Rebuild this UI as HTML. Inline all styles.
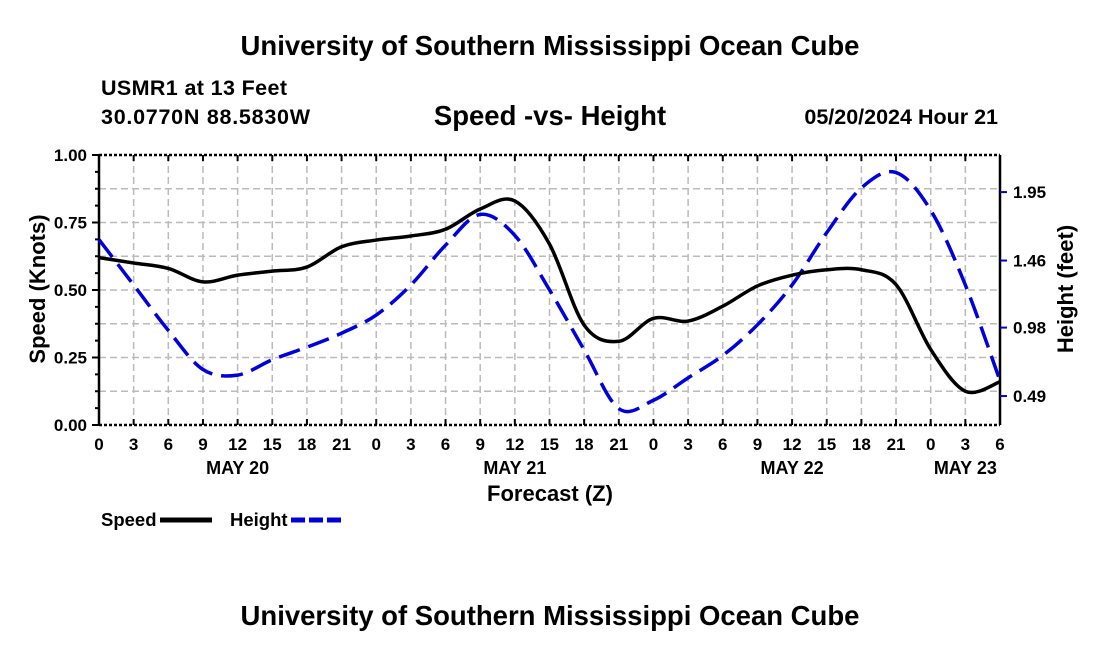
<!DOCTYPE html>
<html><head><meta charset="utf-8"><style>
body{margin:0;background:#fff;}
svg{display:block;font-family:"Liberation Sans",Arial,sans-serif;font-weight:bold;}
</style></head><body>
<svg id="c" width="1100" height="650" viewBox="0 0 1100 650">
<text x="550" y="55" font-size="27.5" text-anchor="middle">University of Southern Mississippi Ocean Cube</text>
<text x="101" y="95" font-size="21.5" textLength="186">USMR1 at 13 Feet</text>
<text x="101" y="124" font-size="21.5" textLength="209">30.0770N  88.5830W</text>
<text x="550" y="125" font-size="27.5" text-anchor="middle">Speed -vs- Height</text>
<text x="998" y="124" font-size="21.5" text-anchor="end">05/20/2024 Hour 21</text>
<g id="grid"></g>
<g id="axes"></g>
<g id="series"></g>
<text x="550" y="501" font-size="22" text-anchor="middle">Forecast (Z)</text>
<text transform="translate(45,289) rotate(-90)" font-size="22" text-anchor="middle">Speed (Knots)</text>
<text transform="translate(1073,289) rotate(-90)" font-size="22" text-anchor="middle">Height (feet)</text>
<g>
<text x="101" y="526" font-size="18.5">Speed</text>
<line x1="160" y1="520" x2="212" y2="520" stroke="#000" stroke-width="5"/>
<text x="230" y="526" font-size="18.5">Height</text>
<line x1="291" y1="520" x2="343" y2="520" stroke="#0000dd" stroke-width="5" stroke-dasharray="14,4"/>
</g>
<text x="550" y="625" font-size="27.5" text-anchor="middle">University of Southern Mississippi Ocean Cube</text>
</svg>
<script>
const hourLabels=["0","3","6","9","12","15","18","21","0","3","6","9","12","15","18","21","0","3","6","9","12","15","18","21","0","3","6"];
const dayLabels=["MAY 20","MAY 21","MAY 22","MAY 23"];
const dayIndex=[4,12,20,25];
const speedTicks=[0,0.25,0.5,0.75,1.0];
const heightTicks=[0.49,0.98,1.46,1.95];
const speed=[0.62,0.60,0.58,0.53,0.555,0.57,0.585,0.66, 0.685,0.70,0.725,0.80,0.83,0.67,0.37,0.31, 0.395,0.385,0.44,0.515,0.555,0.575,0.575,0.52, 0.28,0.125,0.16];
const height=[1.61,1.285,0.96,0.68,0.64,0.75,0.84,0.94, 1.07,1.285,1.57,1.79,1.64,1.25,0.82,0.40, 0.46,0.62,0.78,1.0,1.285,1.66,1.98,2.09, 1.82,1.285,0.60];

const NS="http://www.w3.org/2000/svg";
const X0=99,X1=1000,Y0=425,Y1=155;
const xs=i=>X0+(X1-X0)*i/(hourLabels.length-1);
const ys=v=>Y0-(Y0-Y1)*v/1.0;
const yh=v=>464.5-139.7*v;
function mk(tag,attrs,parent){const e=document.createElementNS(NS,tag);for(const k in attrs)e.setAttribute(k,attrs[k]);parent.appendChild(e);return e;}
const grid=document.getElementById('grid'),axes=document.getElementById('axes'),ser=document.getElementById('series');
for(let v=0.125;v<1;v+=0.125){const l=mk('line',{x1:X0,x2:X1,y1:ys(v),y2:ys(v),stroke:'#bbb','stroke-width':1.5,'stroke-dasharray':'7,4'},grid);

}
hourLabels.forEach((t,i)=>{const x=xs(i);
if(i>0&&i<hourLabels.length-1){const l=mk('line',{x1:x,x2:x,y1:Y1,y2:Y0,stroke:'#bbb','stroke-width':1.5,'stroke-dasharray':'7,4'},grid);

}
mk('line',{x1:x,x2:x,y1:Y0,y2:Y0-6,stroke:'#000','stroke-width':2},axes);
mk('line',{x1:x,x2:x,y1:Y1,y2:Y1+6,stroke:'#000','stroke-width':2},axes);
const tx=mk('text',{x:x,y:450,'font-size':17,'text-anchor':'middle'},axes);tx.textContent=t;

});
dayLabels.forEach((d,i)=>{const tx=mk('text',{x:xs(dayIndex[i]),y:474,'font-size':18,'text-anchor':'middle'},axes);tx.textContent=d;

});
mk('line',{x1:X0,x2:X1,y1:Y0,y2:Y0,stroke:'#000','stroke-width':2.5,'stroke-dasharray':'3,2'},axes);
mk('line',{x1:X0,x2:X1,y1:Y1,y2:Y1,stroke:'#000','stroke-width':2.5,'stroke-dasharray':'3,2'},axes);
mk('line',{x1:X0,x2:X0,y1:Y1,y2:Y0,stroke:'#000','stroke-width':2.5},axes);
mk('line',{x1:X1,x2:X1,y1:Y1,y2:Y0,stroke:'#000','stroke-width':2.5},axes);
for(let v=0;v<=1.0001;v+=0.0625){mk('line',{x1:X0-(Math.abs(v*4-Math.round(v*4))<1e-6?7:4),x2:X0,y1:ys(v),y2:ys(v),stroke:'#000','stroke-width':2},axes);}
speedTicks.forEach(v=>{const tx=mk('text',{x:X0-12,y:ys(v)+6,'font-size':17,'text-anchor':'end'},axes);tx.textContent=v.toFixed(2);

});
heightTicks.forEach(v=>{mk('line',{x1:X1,x2:X1+7,y1:yh(v),y2:yh(v),stroke:'#0000dd','stroke-width':2},axes);
const tx=mk('text',{x:X1+13,y:yh(v)+6,'font-size':17},axes);tx.textContent=v.toFixed(2);

});
function smooth(pts){let d=`M${pts[0][0]},${pts[0][1]}`;for(let i=0;i<pts.length-1;i++){const p0=pts[Math.max(0,i-1)],p1=pts[i],p2=pts[i+1],p3=pts[Math.min(pts.length-1,i+2)];
d+=` C${p1[0]+(p2[0]-p0[0])/6},${p1[1]+(p2[1]-p0[1])/6} ${p2[0]-(p3[0]-p1[0])/6},${p2[1]-(p3[1]-p1[1])/6} ${p2[0]},${p2[1]}`;}return d;}
const hp=mk('path',{d:smooth(height.map((v,i)=>[xs(i),yh(v)])),fill:'none',stroke:'#0000dd','stroke-width':3.5,'stroke-dasharray':'22,9'},ser);


const sp=mk('path',{d:smooth(speed.map((v,i)=>[xs(i),ys(v)])),fill:'none',stroke:'#000','stroke-width':3.5},ser);


</script>
</body></html>
